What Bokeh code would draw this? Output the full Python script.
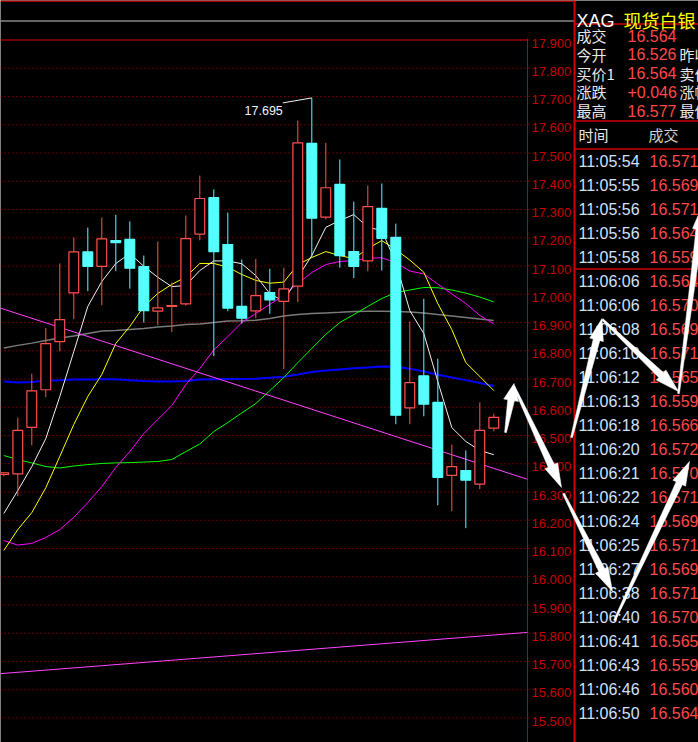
import numpy as np
from bokeh.plotting import figure
from bokeh.models import Range1d, ColumnDataSource
from bokeh.core.properties import value
from bokeh.embed import file_html
from bokeh.resources import INLINE

# ---------------- data ----------------
opens  = [16.362,16.364,16.529,16.662,16.832,17.005,17.150,17.099,17.190,17.194,
          17.098,16.940,16.957,16.966,17.213,17.342,17.176,16.957,16.941,17.006,
          16.975,17.029,17.534,17.273,17.389,17.151,17.118,17.304,17.201,16.598,
          16.711,16.617,16.359,16.376,16.328,16.526]
highs  = [16.370,16.563,16.719,16.880,17.109,17.201,17.236,17.272,17.281,17.258,
          17.137,17.187,17.041,17.279,17.420,17.371,17.289,17.123,17.125,17.090,
          17.094,17.615,17.695,17.536,17.477,17.328,17.385,17.392,17.250,16.904,
          16.984,16.772,16.468,16.447,16.617,16.577]
lows   = [16.355,16.285,16.465,16.636,16.798,16.912,17.011,16.961,17.082,17.020,
          16.900,16.890,16.866,16.960,17.191,16.781,16.940,16.896,16.915,16.931,
          16.735,16.972,17.131,17.265,17.094,17.057,17.081,17.084,16.540,16.540,
          16.568,16.253,16.232,16.172,16.310,16.515]
closes = [16.368,16.518,16.658,16.825,16.910,17.150,17.099,17.196,17.183,17.092,
          16.942,16.952,16.960,17.197,17.339,17.151,16.951,16.915,16.995,16.980,
          17.019,17.536,17.269,17.377,17.137,17.099,17.310,17.198,16.572,16.687,
          16.611,16.352,16.390,16.342,16.518,16.564]

ma_white = [16.224,16.305,16.390,16.489,16.638,16.797,16.957,17.045,17.109,17.144,
            17.099,17.060,17.027,17.031,17.084,17.118,17.118,17.108,17.066,17.002,
            16.975,17.060,17.137,17.237,17.261,17.282,17.237,17.226,17.112,16.942,
            16.861,16.691,16.528,16.479,16.447,16.432]
ma_yellow = [16.093,16.167,16.227,16.315,16.426,16.539,16.638,16.716,16.826,16.886,
             16.957,17.003,17.035,17.061,17.109,17.109,17.096,17.070,17.049,17.039,
             17.043,17.105,17.130,17.151,17.137,17.126,17.162,17.190,17.158,17.121,
             17.078,16.967,16.875,16.758,16.709,16.659]
ma_magenta = [16.128,16.112,16.118,16.139,16.167,16.210,16.263,16.319,16.387,16.443,
              16.507,16.557,16.606,16.680,16.737,16.803,16.850,16.900,16.932,16.964,
              16.996,17.038,17.077,17.105,17.116,17.119,17.128,17.129,17.112,17.082,
              17.072,17.036,17.001,16.967,16.925,16.895]
ma_green = [16.429,16.415,16.403,16.390,16.385,16.392,16.397,16.401,16.403,16.404,
            16.406,16.408,16.415,16.443,16.470,16.514,16.546,16.580,16.613,16.659,
            16.705,16.758,16.808,16.858,16.900,16.928,16.957,16.985,17.006,17.015,
            17.024,17.023,17.015,17.004,16.990,16.973]
ma_gray = [16.810,16.819,16.827,16.836,16.845,16.852,16.861,16.870,16.872,16.875,
           16.879,16.884,16.888,16.893,16.895,16.900,16.905,16.906,16.908,16.914,
           16.923,16.928,16.932,16.934,16.936,16.939,16.940,16.940,16.939,16.937,
           16.934,16.928,16.923,16.918,16.912,16.907]
ma_blue = [16.691,16.688,16.689,16.695,16.696,16.698,16.698,16.699,16.699,16.696,
           16.693,16.691,16.691,16.693,16.698,16.699,16.700,16.700,16.701,16.704,
           16.708,16.716,16.725,16.730,16.734,16.738,16.741,16.744,16.743,16.736,
           16.727,16.715,16.705,16.696,16.686,16.675]

# drawn trend lines: (bar index, price) end points
trend1_x = [-0.24, 37.4]
trend1_y = [16.951, 16.345]
trend2_x = [-0.24, 37.4]
trend2_y = [15.657, 15.803]

price_levels = [round(15.5 + 0.1 * i, 1) for i in range(25)]
price_labels = ["%.3f" % v for v in price_levels]

quote_labels = ["成交", "今开", "买价1", "涨跌", "最高"]
quote_values = ["16.564", "16.526", "16.564", "+0.046", "16.577"]
quote_labels2 = ["", "昨收", "卖价1", "涨幅", "最低"]

trade_times = ["11:05:54", "11:05:55", "11:05:56", "11:05:56", "11:05:58",
               "11:06:06", "11:06:06", "11:06:08", "11:06:10", "11:06:12",
               "11:06:13", "11:06:18", "11:06:20", "11:06:21", "11:06:22",
               "11:06:24", "11:06:25", "11:06:27", "11:06:38", "11:06:40",
               "11:06:41", "11:06:43", "11:06:46", "11:06:50"]
trade_prices = ["16.571", "16.569", "16.571", "16.564", "16.559",
                "16.564", "16.570", "16.569", "16.571", "16.565",
                "16.559", "16.566", "16.572", "16.570", "16.571",
                "16.569", "16.571", "16.569", "16.571", "16.570",
                "16.565", "16.559", "16.560", "16.564"]

# ---------------- layout ----------------
W, H = 698, 742
BAR_PX = 14.0        # pixel spacing of bars
BAR0_PX = 3.3        # pixel x of first bar
PX_PER_PRICE = 282.5
TOP_PRICE, TOP_PX = 17.9, 39.5

def idx(px):
    return (px - BAR0_PX) / BAR_PX

x_start, x_end = idx(0), idx(W)
y_end = TOP_PRICE + TOP_PX / PX_PER_PRICE
y_start = TOP_PRICE - (H - TOP_PX) / PX_PER_PRICE

p = figure(width=W, height=H, x_range=Range1d(x_start, x_end),
           y_range=Range1d(y_start, y_end), output_backend="svg",
           toolbar_location=None, tools="", min_border=0,
           x_axis_location=None, y_axis_location=None,
           background_fill_color="black", border_fill_color="black",
           outline_line_color=None)
p.grid.visible = False
p.extra_x_ranges = {"px": Range1d(0, W)}
p.extra_y_ranges = {"px": Range1d(H, 0)}

RED_AX = "#c80000"
LAT = value("Liberation Sans")
CJK = value("Noto Sans CJK SC")

# grid (dotted) and price labels
n = len(price_levels)
p.segment(x0=[idx(0)] * n, y0=price_levels, x1=[idx(531)] * n, y1=price_levels,
          line_color="#c00000", line_width=1, line_dash="1 3")
p.segment(x0=[idx(0)], y0=[price_levels[-1]], x1=[idx(527)], y1=[price_levels[-1]],
          line_color="#d00000", line_width=1)
p.text(x=[idx(531)] * n, y=price_levels, text=price_labels, text_color=RED_AX,
       text_font=LAT, text_font_size="13px", text_baseline="middle",
       text_align="left", y_offset=3)

# frame lines (pixel space)
p.segment(x0=[527], y0=[38], x1=[527], y1=[H], line_color="#c00000", line_width=1,
          x_range_name="px", y_range_name="px")
p.segment(x0=[0], y0=[20.5], x1=[574], y1=[20.5], line_color="#c8c8c8", line_width=1,
          x_range_name="px", y_range_name="px")
p.segment(x0=[0], y0=[0.5], x1=[574], y1=[0.5], line_color="#d00000", line_width=1.5,
          x_range_name="px", y_range_name="px")

# moving averages
xs = list(range(len(closes)))
p.line(xs, ma_gray, line_color="#7a7a7a", line_width=1.5)
p.line(xs, ma_blue, line_color="#0000ff", line_width=2)
p.line(xs, ma_green, line_color="#00ff00", line_width=1)
p.line(xs, ma_magenta, line_color="#ff00ff", line_width=1)
p.line(xs, ma_yellow, line_color="#ffff00", line_width=1)
p.line(xs, ma_white, line_color="#f0f0f0", line_width=1)
p.line(trend1_x, trend1_y, line_color="#ff44ff", line_width=1)
p.line(trend2_x, trend2_y, line_color="#ff44ff", line_width=1)

# candles
UP, DOWN = "#ff5050", "#55ffff"
o = np.array(opens); c = np.array(closes)
up = c >= o
src = ColumnDataSource(dict(
    x=xs, high=highs, low=lows,
    top=np.maximum(o, c), bottom=np.minimum(o, c),
    col=[UP if u else DOWN for u in up],
    fill=["black" if u else DOWN for u in up],
))
p.segment(x0="x", y0="low", x1="x", y1="high", line_color="col", line_width=1, source=src)
p.vbar(x="x", width=0.7, top="top", bottom="bottom", fill_color="fill",
       line_color="col", line_width=1.2, source=src)

# high marker
imax = int(np.argmax(highs))
hmax = highs[imax]
p.segment(x0=[imax - 29 / BAR_PX], y0=[hmax - 5 / PX_PER_PRICE], x1=[imax], y1=[hmax],
          line_color="#f0f0f0", line_width=1)
p.text(x=[imax], y=[hmax], text=["%.3f" % hmax], text_color="#eef6ff", text_font=LAT,
       text_font_size="12.5px", text_align="right", text_baseline="middle",
       x_offset=-29, y_offset=13)

# ---------------- right panel ----------------
PX = dict(x_range_name="px", y_range_name="px")
p.segment(x0=[574], y0=[0], x1=[574], y1=[H], line_color="#d00000", line_width=2, **PX)
for yy in (23.5, 120.5, 148.5):
    p.segment(x0=[574], y0=[yy], x1=[W], y1=[yy], line_color="#d00000", line_width=1.5, **PX)
p.segment(x0=[575], y0=[268.5], x1=[W], y1=[268.5], line_color="#d00000", line_width=1.5, **PX)

p.text(x=[576], y=[20], text=["XAG"], text_color="white", text_font=LAT,
       text_font_size="18px", text_baseline="alphabetic", **PX)
p.text(x=[623], y=[19.5], text=["现货白银"], text_color="#ffff00", text_font=CJK,
       text_font_size="18px", text_baseline="alphabetic", **PX)

qy = [35 + 18.75 * i for i in range(len(quote_labels))]
p.text(x=[576] * len(qy), y=qy, text=quote_labels, text_color="#e8e8e8", text_font=CJK,
       text_font_size="15px", text_baseline="middle", **PX)
p.text(x=[627] * len(qy), y=qy, text=quote_values, text_color="#ff4848", text_font=LAT,
       text_font_size="16px", text_baseline="middle", **PX)
p.text(x=[679] * len(qy), y=qy, text=quote_labels2, text_color="#e8e8e8", text_font=CJK,
       text_font_size="15px", text_baseline="middle", **PX)

p.text(x=[578], y=[133.5], text=["时间"], text_color="#e8e8e8", text_font=CJK,
       text_font_size="15px", text_baseline="middle", **PX)
p.text(x=[648], y=[133.5], text=["成交"], text_color="#d0d0d0", text_font=CJK,
       text_font_size="15px", text_baseline="middle", **PX)

ty = [160.7 + 24 * i for i in range(len(trade_times))]
p.text(x=[578] * len(ty), y=ty, text=trade_times, text_color="#cce3ff", text_font=LAT,
       text_font_size="16px", text_baseline="middle", **PX)
p.text(x=[649] * len(ty), y=ty, text=trade_prices, text_color="#ff4848", text_font=LAT,
       text_font_size="16px", text_baseline="middle", **PX)

# ---------------- hand-drawn arrows (pixel space) ----------------
arrows = [((505, 432), (513.5, 383), 17, 7.5),
          ((513.5, 386), (561, 487), 24, 7),
          ((563, 493), (612, 591), 24, 7),
          ((614, 620), (689, 461), 24, 7),
          ((571, 437), (601.5, 318), 22, 7),
          ((602, 319), (678, 391), 24, 7),
          ((678, 393), (702, 205), 24, 7)]

def arrow_poly(t, h, head_len, head_w, w0=0.9, w1=3.4):
    t = np.array(t, float); h = np.array(h, float)
    d = h - t
    u = d / np.hypot(*d)
    nrm = np.array([-u[1], u[0]])
    base = h - u * head_len
    pts = [t + nrm * w0, base + nrm * w1, base + nrm * head_w, h,
           base - nrm * head_w, base - nrm * w1, t - nrm * w0]
    return [q[0] for q in pts], [q[1] for q in pts]

axs, ays = [], []
for t, h, hl, hw in arrows:
    a, b = arrow_poly(t, h, hl, hw)
    axs.append(a); ays.append(b)
p.patches(xs=axs, ys=ays, fill_color="white", line_color="white", line_width=0.5, **PX)

open("out.html", "w").write(file_html(p, INLINE, title="XAG"))
